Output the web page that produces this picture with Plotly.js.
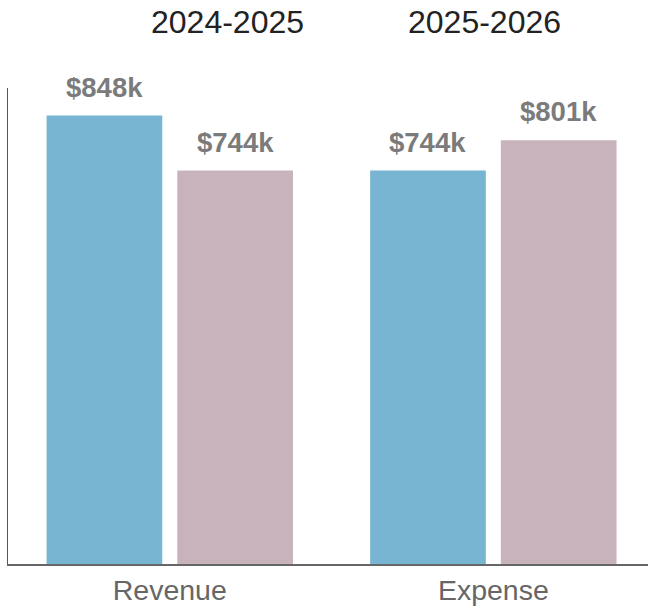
<!DOCTYPE html>
<html>
<head>
<meta charset="utf-8">
<script src="https://cdn.plot.ly/plotly-3.0.1.min.js"></script>
<style>html,body{margin:0;padding:0;background:#fff;}#chart{width:648px;height:609px;}</style>
</head>
<body>
<div id="chart"></div>
<script>
var categories = ["Revenue", "Expense"];
var seriesNames = ["2024-2025", "2025-2026"];
var values2024 = [848, 744];
var values2025 = [744, 801];
var colors = ["#78b5d3", "#c8b3bd"];

var fmt = function (v) { return "$" + v + "k"; };

var traces = [
  { type: "bar", name: seriesNames[0], x: categories, y: values2024, marker: { color: colors[0] }, hoverinfo: "none" },
  { type: "bar", name: seriesNames[1], x: categories, y: values2025, marker: { color: colors[1] }, hoverinfo: "none" }
];

var bargap = 0.192, bargroupgap = 0.115;
var slot = (1 - bargap) / 2;
var FONT = "Liberation Sans, Arial, sans-serif";
var annotations = [];
[values2024, values2025].forEach(function (vals, s) {
  vals.forEach(function (v, i) {
    annotations.push({
      x: i + (s === 0 ? -slot / 2 : slot / 2), y: v, xref: "x", yref: "y",
      xanchor: "center", text: fmt(v), showarrow: false, yanchor: "bottom", yshift: 11,
      font: { family: FONT, size: 27.5, color: "#7b7b7b", weight: "bold" }
    });
  });
});
annotations.push({ x: 0.343, y: 1, xref: "paper", yref: "paper", xanchor: "center", yanchor: "bottom", yshift: 46,
  text: seriesNames[0], showarrow: false, font: { family: FONT, size: 32, color: "#222" } });
annotations.push({ x: 0.745, y: 1, xref: "paper", yref: "paper", xanchor: "center", yanchor: "bottom", yshift: 46,
  text: seriesNames[1], showarrow: false, font: { family: FONT, size: 32, color: "#222" } });

var layout = {
  width: 648, height: 609,
  margin: { l: 8, r: 0, t: 88, b: 45 },
  paper_bgcolor: "#fff", plot_bgcolor: "#fff",
  showlegend: false,
  barmode: "group", bargap: bargap, bargroupgap: bargroupgap,
  xaxis: {
    type: "category", range: [-0.5, 1.478],
    showline: true, linecolor: "#666", linewidth: 1.5,
    showgrid: false, ticks: "", zeroline: false,
    tickfont: { family: FONT, size: 28.5, color: "#666" }
  },
  yaxis: {
    range: [0, 900], showline: true, linecolor: "#555", linewidth: 1.5,
    showgrid: false, zeroline: false, showticklabels: false, ticks: ""
  },
  annotations: annotations
};

Plotly.newPlot("chart", traces, layout, { displayModeBar: false, staticPlot: true });
</script>
</body>
</html>
